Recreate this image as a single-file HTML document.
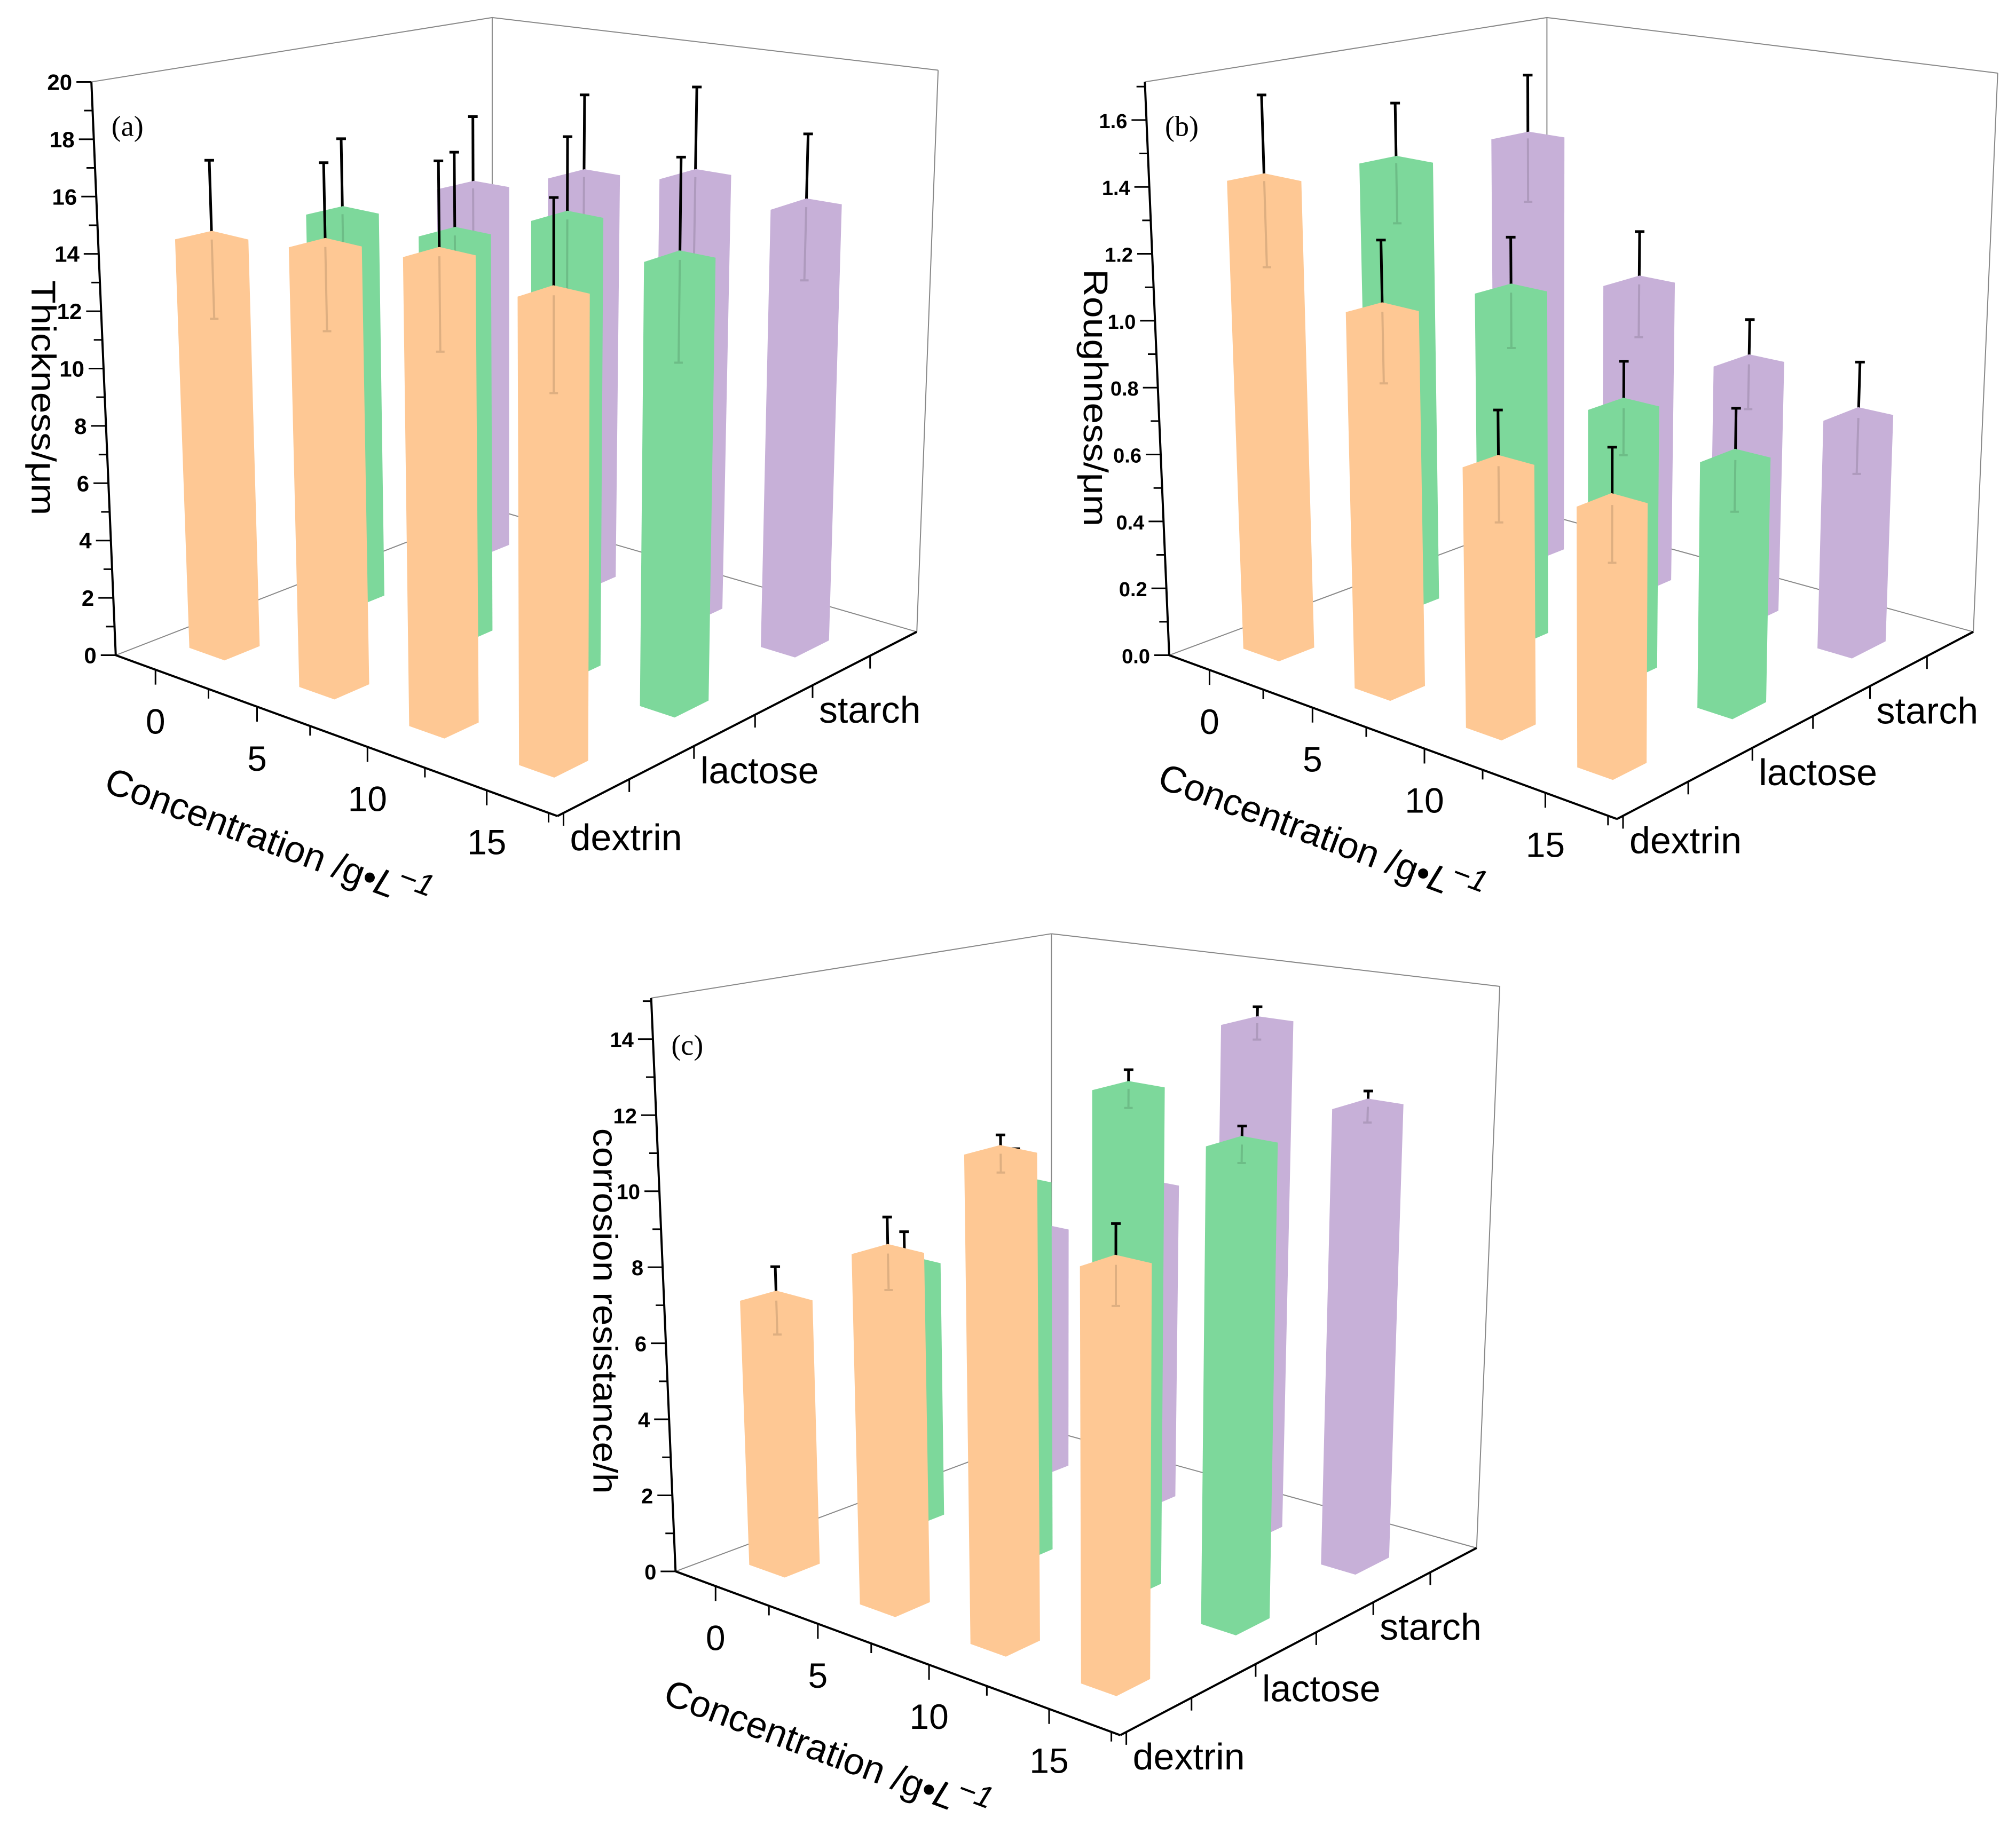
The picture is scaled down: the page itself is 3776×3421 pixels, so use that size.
<!DOCTYPE html>
<html><head><meta charset="utf-8"><style>
html,body{margin:0;padding:0;background:#fff;}
svg{display:block;}
</style></head><body>
<svg id="fig" width="3776" height="3421" viewBox="0 0 3776 3421" xmlns="http://www.w3.org/2000/svg" font-family="Liberation Sans, Arial, sans-serif">
<rect width="3776" height="3421" fill="#fff"/>
</svg>
<script>
// ---- data ----
const concCategories = ["0","5","10","15"];
const sugarCategories = ["dextrin","lactose","starch"];
// panel (a) thickness / um
const thickDextrin = [14.4,15.1,15.7,15.3];
const thickLactose = [14.2,14.3,15.7,15.1];
const thickStarch  = [14.0,15.2,15.9,15.5];
const thickErrDextrin = [2.8,2.9,3.2,3.2];
const thickErrLactose = [2.8,3.0,2.9,3.5];
const thickErrStarch  = [2.8,3.1,3.3,2.6];
const thickTicks = [0,2,4,6,8,10,12,14,16,18,20];
// panel (b) roughness / um
const roughDextrin = [1.41,1.10,0.74,0.72];
const roughLactose = [1.38,1.05,0.78,0.71];
const roughStarch  = [1.37,0.96,0.78,0.69];
const roughErrDextrin = [0.26,0.21,0.16,0.16];
const roughErrLactose = [0.19,0.17,0.14,0.15];
const roughErrStarch  = [0.21,0.17,0.14,0.17];
const roughTicks = ["0.0","0.2","0.4","0.6","0.8","1.0","1.2","1.4","1.6"];
// panel (c) corrosion resistance / h
const corrDextrin = [7.0,9.0,12.2,10.1];
const corrLactose = [7.0,9.9,13.0,12.1];
const corrStarch  = [6.9,8.8,13.9,12.1];
const corrErrDextrin = [0.9,0.94,0.47,1.0];
const corrErrLactose = [0.9,0.94,0.5,0.47];
const corrErrStarch  = [0.6,0.6,0.45,0.42];
const corrTicks = [0,2,4,6,8,10,12,14];

const NS="http://www.w3.org/2000/svg";
const svg=document.getElementById('fig');
const COLORS=["#fec894","#7dd89b","#c7b0d8"];
const SX=1.141, SY=1.096;

function mk(tag,attrs,parent){const e=document.createElementNS(NS,tag);for(const k in attrs)e.setAttribute(k,attrs[k]);(parent||svg).appendChild(e);return e;}

function bil(Q,u,v){
  return [Q[0][0]*(1-u)*(1-v)+Q[1][0]*u*(1-v)+Q[2][0]*u*v+Q[3][0]*(1-u)*v,
          Q[0][1]*(1-u)*(1-v)+Q[1][1]*u*(1-v)+Q[2][1]*u*v+Q[3][1]*(1-u)*v];
}

function drawPanel(cfg){
  const g=mk('g',{});
  
  
  const R=p=>[cfg.off[0]+p[0]*SX, cfg.off[1]+p[1]*SY];
  const P=(u,v,w)=>{const f=bil(cfg.F,u,v),t=bil(cfg.T,u,v);return R([f[0]+(t[0]-f[0])*w,f[1]+(t[1]-f[1])*w]);};
  const line=(a,b,st,sw,nm)=>{const l=mk('line',{x1:a[0],y1:a[1],x2:b[0],y2:b[1],stroke:st,'stroke-width':sw},g);return l;};
  const F=cfg.F.map(R), T=cfg.T.map(R);
  line(F[0],F[3],'#888',2,'floor-back-left-edge');
  line(F[3],F[2],'#888',2,'floor-back-right-edge');
  line(F[3],T[3],'#888',2,'back-vertical-edge');
  line(F[2],T[2],'#888',2,'right-vertical-edge');
  line(T[0],T[3],'#888',2,'top-left-edge');
  line(T[3],T[2],'#888',2,'top-right-edge');
  line(F[0],T[0],'#000',4,'y-axis-line');
  for(let t=0;t<=cfg.max+1e-9;t+=cfg.minor){
    const w=t/cfg.max; if(w>1.0001)break;
    const p=P(0,0,w);
    const isMaj=Math.abs(t/cfg.major-Math.round(t/cfg.major))<1e-6;
    line(p,[p[0]-(isMaj?28:16),p[1]],'#000',3,'y-tick');
  }
  cfg.ticks.forEach(lbl=>{
    const val=parseFloat(lbl); const p=P(0,0,val/cfg.max);
    const tx=mk('text',{x:p[0]-36,y:p[1]+15,'text-anchor':'end','font-size':cfg.tickFont,'font-weight':'bold'},g);
    tx.textContent=lbl;
    
    
  });
  const yc=R(cfg.yTitle);
  const yt=mk('text',{x:yc[0],y:yc[1],'text-anchor':'middle','font-size':64,transform:`rotate(90 ${yc[0]} ${yc[1]})`,textLength:cfg.yTitleLen,lengthAdjust:'spacingAndGlyphs'},g);
  yt.textContent=cfg.yLabel;
  
  
  const pl=R(cfg.tagPos);
  const tg=mk('text',{x:pl[0],y:pl[1],'font-size':54,'font-family':'Liberation Serif, serif'},g);
  tg.textContent=cfg.tag;
  
  
  line(F[0],F[1],'#000',4,'x-axis-line');
  const cMaj=[0.09,0.32,0.57,0.84], cMin=[0.21,0.44,0.70,0.98];
  cMaj.forEach((u,i)=>{const p=P(u,0,0);line(p,[p[0],p[1]+28],'#000',3,'x-tick');
    const tx=mk('text',{x:p[0],y:p[1]+120,'text-anchor':'middle','font-size':66},g);
    tx.textContent=concCategories[i];
    
    });
  cMin.forEach(u=>{const p=P(u,0,0);line(p,[p[0],p[1]+18],'#000',3,'x-minor-tick');});
  const ct=R(cfg.concTitle);
  const ctt=mk('text',{x:ct[0],y:ct[1],'font-size':70,transform:`rotate(20.5 ${ct[0]} ${ct[1]})`},g);
  ctt.innerHTML='Concentration /g•<tspan font-style="italic">L</tspan><tspan font-style="italic" dy="-28" font-size="58">−1</tspan>';
  
  
  line(F[1],F[2],'#000',4,'z-axis-line');
  const vT=[0.017,0.20,0.38,0.55,0.71,0.87];
  vT.forEach((v,k)=>{const p=P(1,v,0);line(p,[p[0],p[1]+24],'#000',3,'z-tick');
    if(k%2===0){const tx=mk('text',{x:p[0]+12,y:p[1]+70,'font-size':70},g);
      tx.textContent=sugarCategories[k/2];
      
      }});
  const a=0.04,b=0.047;
  const bars=[];
  cfg.series.forEach((s,j)=>s.vals.forEach((val,i)=>bars.push({u:0.105+0.25*i,v:(j+0.5)/3,val,err:s.errs[i],j,i})));
  bars.sort((p,q)=>(p.u-p.v)-(q.u-q.v));
  bars.forEach(bar=>{
    const w=bar.val/cfg.max, we=bar.err/cfg.max;
    const top=P(bar.u,bar.v,w), hi=P(bar.u,bar.v,w+we), lo=P(bar.u,bar.v,w-we);
    const eb=mk('g',{},g);
    
    
    mk('line',{x1:top[0],y1:top[1],x2:hi[0],y2:hi[1],stroke:'#000','stroke-width':5},eb);
    mk('line',{x1:hi[0]-9,y1:hi[1],x2:hi[0]+9,y2:hi[1],stroke:'#000','stroke-width':5},eb);
    const pts=[P(bar.u-a,bar.v-b,0),P(bar.u+a,bar.v-b,0),P(bar.u+a,bar.v+b,0),P(bar.u+a,bar.v+b,w),P(bar.u-a,bar.v+b,w),P(bar.u-a,bar.v-b,w)];
    const poly=mk('polygon',{points:pts.map(p=>p[0].toFixed(1)+','+p[1].toFixed(1)).join(' '),fill:COLORS[bar.j]},g);
    
    
    const fe=mk('g',{opacity:0.12},g);
    
    
    mk('line',{x1:lo[0],y1:lo[1],x2:top[0],y2:top[1],stroke:'#000','stroke-width':4},fe);
    mk('line',{x1:lo[0]-8,y1:lo[1],x2:lo[0]+8,y2:lo[1],stroke:'#000','stroke-width':4},fe);
  });
}

drawPanel({name:'panel-a-thickness',off:[0,0],
  F:[[190,1120],[915,1395],[1505,1080],[808,870]],T:[[150,140],[915,315],[1540,120],[808,30]],
  max:20,minor:1,major:2,ticks:thickTicks.map(String),tickFont:42,
  yLabel:'Thickness/μm',yTitle:[52,680],yTitleLen:440,tag:'(a)',tagPos:[183,232],concTitle:[168,1352],
  series:[{vals:thickDextrin,errs:thickErrDextrin},{vals:thickLactose,errs:thickErrLactose},{vals:thickStarch,errs:thickErrStarch}]});
drawPanel({name:'panel-b-roughness',off:[1996,0],
  F:[[170,1120],[905,1400],[1490,1080],[790,880]],T:[[130,140],[905,300],[1530,125],[790,30]],
  max:1.714,minor:0.1,major:0.2,ticks:roughTicks,tickFont:38,
  yLabel:'Roughness/μm',yTitle:[30,680],yTitleLen:482,tag:'(b)',tagPos:[163,232],concTitle:[148,1345],
  series:[{vals:roughDextrin,errs:roughErrDextrin},{vals:roughLactose,errs:roughErrLactose},{vals:roughStarch,errs:roughErrStarch}]});
drawPanel({name:'panel-c-corrosion',off:[1020,1700],
  F:[[215,1135],[945,1415],[1530,1095],[832,895]],T:[[175,155],[945,310],[1568,135],[832,45]],
  max:15.08,minor:1,major:2,ticks:corrTicks.map(String),tickFont:40,
  yLabel:'corrosion resistance/h',yTitle:[80,690],yTitleLen:685,tag:'(c)',tagPos:[208,252],concTitle:[192,1360],
  series:[{vals:corrDextrin,errs:corrErrDextrin},{vals:corrLactose,errs:corrErrLactose},{vals:corrStarch,errs:corrErrStarch}]});
</script>
</body></html>
